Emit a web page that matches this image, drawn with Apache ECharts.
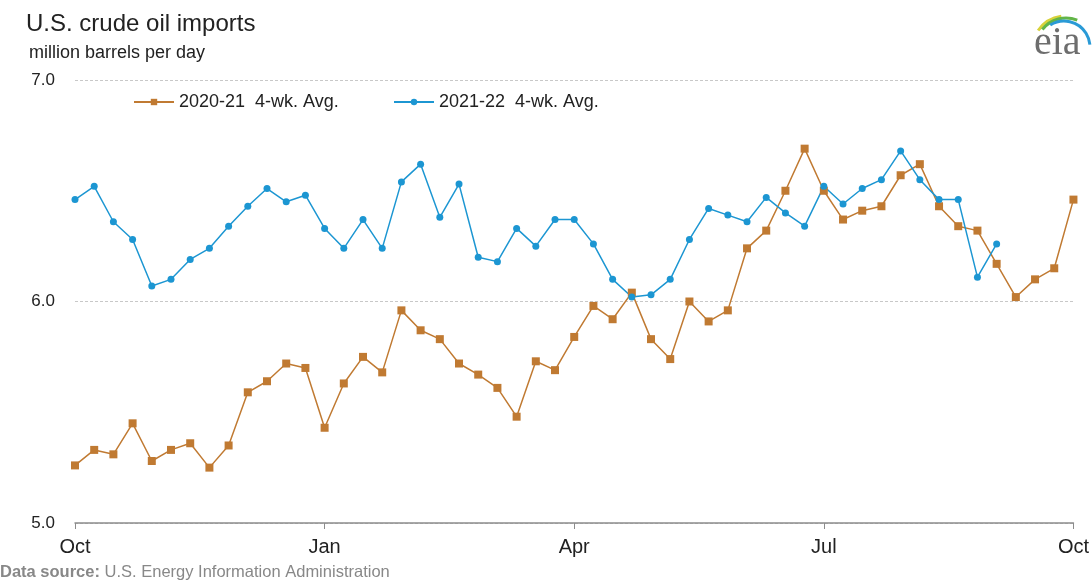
<!DOCTYPE html>
<html>
<head>
<meta charset="utf-8">
<script src="https://cdn.jsdelivr.net/npm/echarts@6/dist/echarts.min.js"></script>
<style>
html,body{margin:0;padding:0;background:#fff;}
#c{width:1092px;height:581px;}
</style>
</head>
<body>
<div id="c"></div>
<script>
// ---- data ----
var weekIndex = [];
for (var i = 0; i < 53; i++) weekIndex.push(i);
var tickLabels = {0: 'Oct', 13: 'Jan', 26: 'Apr', 39: 'Jul', 52: 'Oct'};
var seriesNames = ['2020-21  4-wk. Avg.', '2021-22  4-wk. Avg.'];
var imports2020_21 = [
  5.26, 5.33, 5.31, 5.45, 5.28, 5.33, 5.36, 5.25, 5.35, 5.59,
  5.64, 5.72, 5.70, 5.43, 5.63, 5.75, 5.68, 5.96, 5.87, 5.83,
  5.72, 5.67, 5.61, 5.48, 5.73, 5.69, 5.84, 5.98, 5.92, 6.04,
  5.83, 5.74, 6.00, 5.91, 5.96, 6.24, 6.32, 6.50, 6.69, 6.50,
  6.37, 6.41, 6.43, 6.57, 6.62, 6.43, 6.34, 6.32, 6.17, 6.02,
  6.10, 6.15, 6.46
];
var imports2021_22 = [
  6.46, 6.52, 6.36, 6.28, 6.07, 6.10, 6.19, 6.24, 6.34, 6.43,
  6.51, 6.45, 6.48, 6.33, 6.24, 6.37, 6.24, 6.54, 6.62, 6.38,
  6.53, 6.20, 6.18, 6.33, 6.25, 6.37, 6.37, 6.26, 6.10, 6.02,
  6.03, 6.10, 6.28, 6.42, 6.39, 6.36, 6.47, 6.40, 6.34, 6.52,
  6.44, 6.51, 6.55, 6.68, 6.55, 6.46, 6.46, 6.11, 6.26
];
var yTicks = {min: 5, max: 7, interval: 1};

var brown = '#C07A32';
var blue = '#1C96D2';
var font = '"Liberation Sans", Arial, sans-serif';

var chart = echarts.init(document.getElementById('c'), null, {renderer: 'canvas'});
chart.setOption({
  backgroundColor: '#ffffff',
  animation: false,
  textStyle: {fontFamily: font},
  grid: {left: 75, right: 15, top: 80, bottom: 58, containLabel: false},
  legend: [
    {
      data: [seriesNames[0]], left: 128, top: 88,
      itemWidth: 40, itemHeight: 8, itemGap: 5,
      textStyle: {fontSize: 18, color: '#222', fontFamily: font}
    },
    {
      data: [seriesNames[1]], left: 388, top: 88,
      itemWidth: 40, itemHeight: 8, itemGap: 5,
      textStyle: {fontSize: 18, color: '#222', fontFamily: font}
    }
  ],
  xAxis: {
    type: 'category',
    data: weekIndex,
    boundaryGap: false,
    axisLine: {show: true, lineStyle: {color: '#8c8c8c', width: 1.5}},
    axisTick: {
      show: true, length: 6, lineStyle: {color: '#8c8c8c'},
      interval: function (idx) { return tickLabels[idx] !== undefined; }
    },
    axisLabel: {
      interval: function (idx) { return tickLabels[idx] !== undefined; },
      formatter: function (v, idx) { return tickLabels[idx] || ''; },
      fontSize: 20, color: '#222', margin: 14, fontFamily: font
    },
    splitLine: {show: false}
  },
  yAxis: {
    type: 'value',
    min: yTicks.min, max: yTicks.max, interval: yTicks.interval,
    axisLine: {show: false},
    axisTick: {show: false},
    axisLabel: {
      fontSize: 17, color: '#222', margin: 20, fontFamily: font,
      formatter: function (v) { return v.toFixed(1); }
    },
    splitLine: {show: true, lineStyle: {color: '#c8c8c8', type: [3, 2], width: 1}}
  },
  series: [
    {
      name: seriesNames[0], type: 'line', data: imports2020_21,
      symbol: 'rect', symbolSize: 8, showAllSymbol: true,
      itemStyle: {color: brown},
      lineStyle: {color: brown, width: 1.5}
    },
    {
      name: seriesNames[1], type: 'line', data: imports2021_22,
      symbol: 'circle', symbolSize: 7, showAllSymbol: true,
      itemStyle: {color: blue},
      lineStyle: {color: blue, width: 1.5}
    }
  ],
  graphic: [
    {type: 'text', left: 26, top: 12, style: {text: 'U.S. crude oil imports', fontSize: 24, fill: '#222', fontFamily: font}},
    {type: 'text', left: 29, top: 44, style: {text: 'million barrels per day', fontSize: 18, fill: '#222', fontFamily: font}},
    {type: 'text', left: 0, top: 564, style: {
      text: '{b|Data source:} U.S. Energy Information Administration',
      fontSize: 16.5, fill: '#888', fontFamily: font,
      rich: {b: {fontWeight: 'bold', fontSize: 16.5, fill: '#888', fontFamily: font}}
    }},
    // eia logo
    {type: 'text', left: 1034, top: 23, style: {text: 'eia', fontSize: 40, fill: '#6d6d6d', fontFamily: '"Liberation Serif", "DejaVu Serif", serif'}},
    {type: 'arc', shape: {cx: 1066, cy: 50, r: 34, startAngle: Math.PI * 215 / 180, endAngle: Math.PI * 262 / 180}, style: {stroke: '#d8d23a', lineWidth: 3, fill: null}},
    {type: 'arc', shape: {cx: 1066, cy: 48, r: 30, startAngle: Math.PI * 218 / 180, endAngle: Math.PI * 292 / 180}, style: {stroke: '#62b548', lineWidth: 3, fill: null}},
    {type: 'arc', shape: {cx: 1064, cy: 47, r: 26, startAngle: Math.PI * 238 / 180, endAngle: Math.PI * 355 / 180}, style: {stroke: '#2a9ad6', lineWidth: 3, fill: null}}
  ]
});
</script>
</body>
</html>
